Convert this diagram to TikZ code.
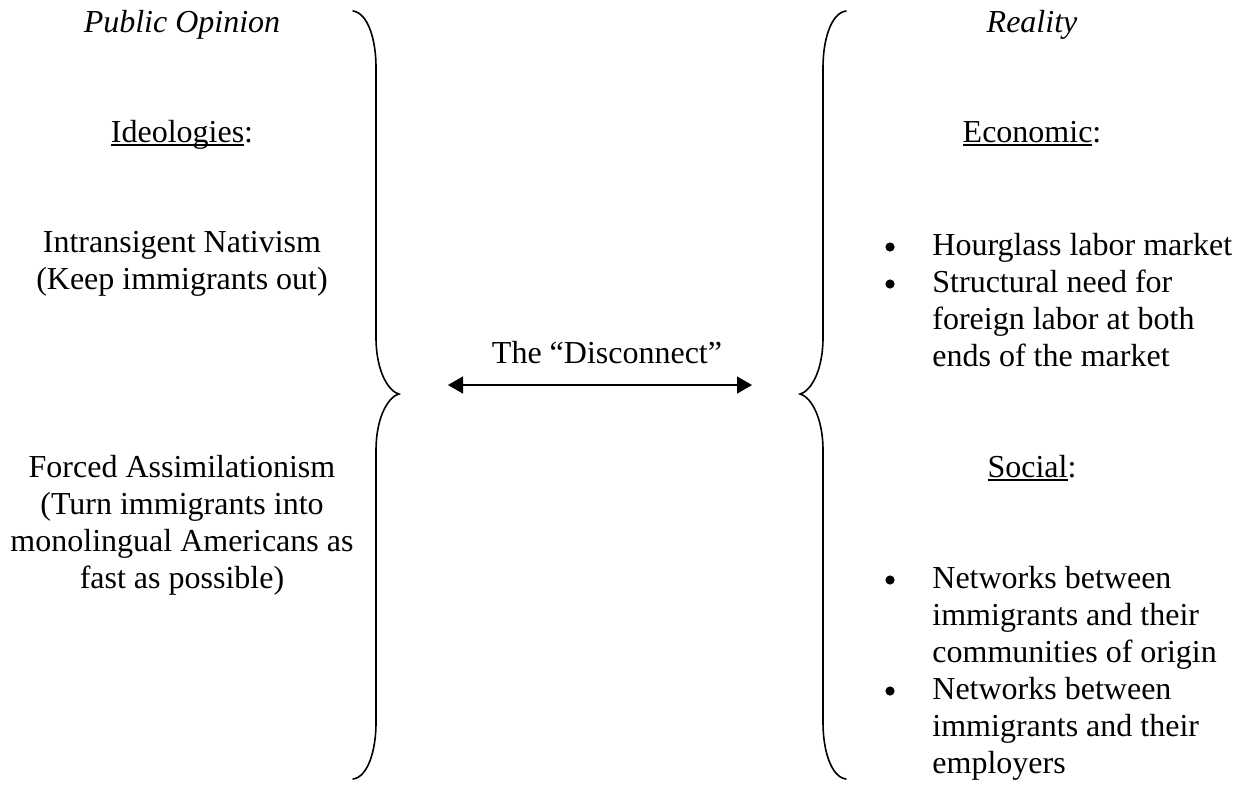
\documentclass[tikz,border=0pt]{standalone}
\usepackage{fontspec}
\setmainfont{Liberation Serif}
\usetikzlibrary{arrows.meta}
\newsavebox{\ulbox}
\newcommand{\ulw}[1]{\sbox{\ulbox}{#1}\rlap{\rule[-1.8pt]{\wd\ulbox}{0.7pt}}\usebox{\ulbox}}
\newcommand{\lines}[2]{\begin{tabular}[t]{@{}#1@{}}#2\end{tabular}}
\begin{document}
\begin{tikzpicture}[x=0.5pt,y=-0.5pt,
  txt/.style={font=\fontsize{16}{18.5}\selectfont, inner sep=0pt, anchor=base},
  itm/.style={txt, anchor=base west},
  dot/.style={circle, fill=black, draw=none, inner sep=0pt, minimum size=4.6pt},
  brace/.style={line width=0.8pt, line cap=round},
  link/.style={line width=0.7pt, {Triangle[length=7.5pt,width=8.5pt]}-{Triangle[length=7.5pt,width=8.5pt]}}
]
\useasboundingbox (0,0) rectangle (1245,784);
% left column
\node[txt] (po) at (182,32) {\textit{Public Opinion}};
\node[txt] (ideo) at (182,142) {\ulw{Ideologies}:};
\node[txt] (nat) at (182,252) {\lines{c}{Intransigent Nativism\\(Keep immigrants out)}};
\node[txt] (assim) at (182,477) {\lines{c}{Forced Assimilationism\\(Turn immigrants into\\monolingual Americans as\\fast as possible)}};
% right column
\node[txt] (real) at (1032,32) {\textit{Reality}};
\node[txt] (econ) at (1032,142) {\ulw{Economic}:};
\node[itm] (e1) at (932,255) {Hourglass labor market};
\node[itm] (e2) at (932,292) {\lines{l}{Structural need for\\foreign labor at both\\ends of the market}};
\node[txt] (soc) at (1032,477) {\ulw{Social}:};
\node[itm] (s1) at (932,588) {\lines{l}{Networks between\\immigrants and their\\communities of origin}};
\node[itm] (s2) at (932,699) {\lines{l}{Networks between\\immigrants and their\\employers}};
\node[dot] (b1) at (890,247) {};
\node[dot] (b2) at (890,284) {};
\node[dot] (b3) at (890,580) {};
\node[dot] (b4) at (890,691) {};
% braces
\draw[brace] (353,11) .. controls (368,13) and (376,40) .. (376,67) -- (376,337)
  .. controls (376,374) and (390,392) .. (399,394)
  .. controls (390,396) and (376,414) .. (376,451) -- (376,723)
  .. controls (376,750) and (368,777) .. (353,779);
\draw[brace] (846,11) .. controls (831,13) and (823,40) .. (823,67) -- (823,337)
  .. controls (823,374) and (809,392) .. (800,394)
  .. controls (809,396) and (823,414) .. (823,451) -- (823,723)
  .. controls (823,750) and (831,777) .. (846,779);
% disconnect
\node[txt] (disc) at (607,363) {The “Disconnect”};
\coordinate (al) at (448,385);
\coordinate (ar) at (752,385);
\draw[link] (al) -- (ar);
\end{tikzpicture}
\end{document}
